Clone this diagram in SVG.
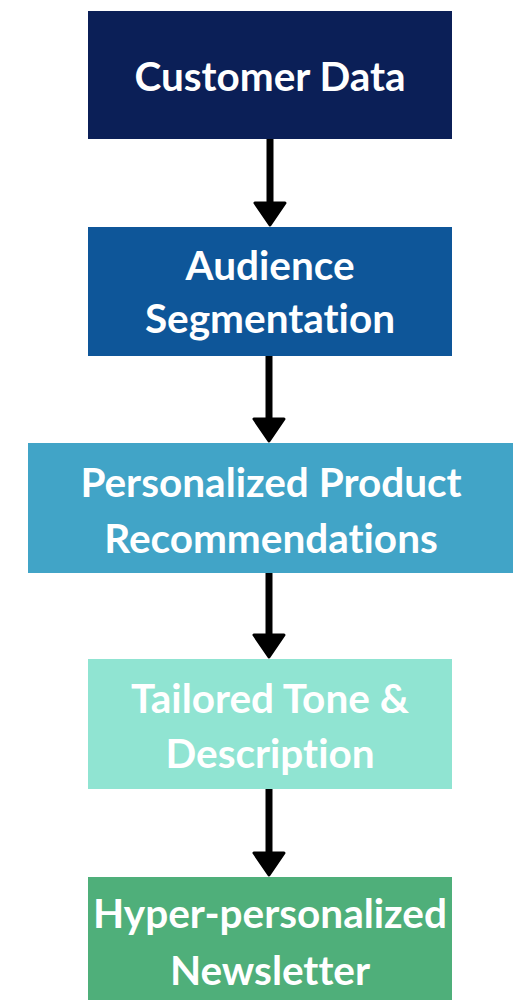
<svg xmlns="http://www.w3.org/2000/svg" width="515" height="1000" viewBox="0 0 515 1000">
  <style>
    .lbl { font-family: Lato, "Open Sans", "Liberation Sans", sans-serif; font-weight: 700; font-size: 40.5px; fill: #ffffff; text-anchor: middle; font-variant-ligatures: none; font-feature-settings: "liga" 0, "clig" 0; }
    .conn { stroke: #000000; stroke-width: 7; fill: none; }
  </style>
  <defs>
    <marker id="arrow" markerUnits="userSpaceOnUse" orient="auto" refX="7" refY="0" markerWidth="30" markerHeight="40" viewBox="-3 -19 30 38" overflow="visible">
      <path d="M0,-15 L22,0 L0,15 Z" fill="#000000" stroke="#000000" stroke-width="3" stroke-linejoin="round"/>
    </marker>
  </defs>
  <rect x="0" y="0" width="515" height="1000" fill="#ffffff"/>

  <g id="connectors">
    <line class="conn" x1="270" y1="139" x2="270" y2="210" marker-end="url(#arrow)"/>
    <line class="conn" x1="269" y1="356" x2="269" y2="426" marker-end="url(#arrow)"/>
    <line class="conn" x1="269" y1="573" x2="269" y2="642" marker-end="url(#arrow)"/>
    <line class="conn" x1="269" y1="789" x2="269" y2="860" marker-end="url(#arrow)"/>
  </g>

  <g id="node-customer-data">
    <rect x="88" y="11" width="364" height="128" fill="#0b1f57"/>
    <text class="lbl" x="270" y="91">Customer Data</text>
  </g>

  <g id="node-audience-segmentation">
    <rect x="88" y="227" width="364" height="129" fill="#0e5699"/>
    <text class="lbl" x="270" y="280">Audience</text>
    <text class="lbl" x="270" y="333">Segmentation</text>
  </g>

  <g id="node-personalized-product">
    <rect x="28" y="443" width="485" height="130" fill="#41a4c7"/>
    <text class="lbl" x="271" y="497">Personalized Product</text>
    <text class="lbl" x="271" y="553">Recommendations</text>
  </g>

  <g id="node-tailored-tone">
    <rect x="88" y="659" width="364" height="130" fill="#90e4d2"/>
    <text class="lbl" x="270" y="713">Tailored Tone &amp;</text>
    <text class="lbl" x="270" y="768">Description</text>
  </g>

  <g id="node-newsletter">
    <rect x="88" y="877" width="364" height="133" fill="#4faf7a"/>
    <text class="lbl" x="270" y="928">Hyper-personalized</text>
    <text class="lbl" x="270" y="985">Newsletter</text>
  </g>
</svg>
